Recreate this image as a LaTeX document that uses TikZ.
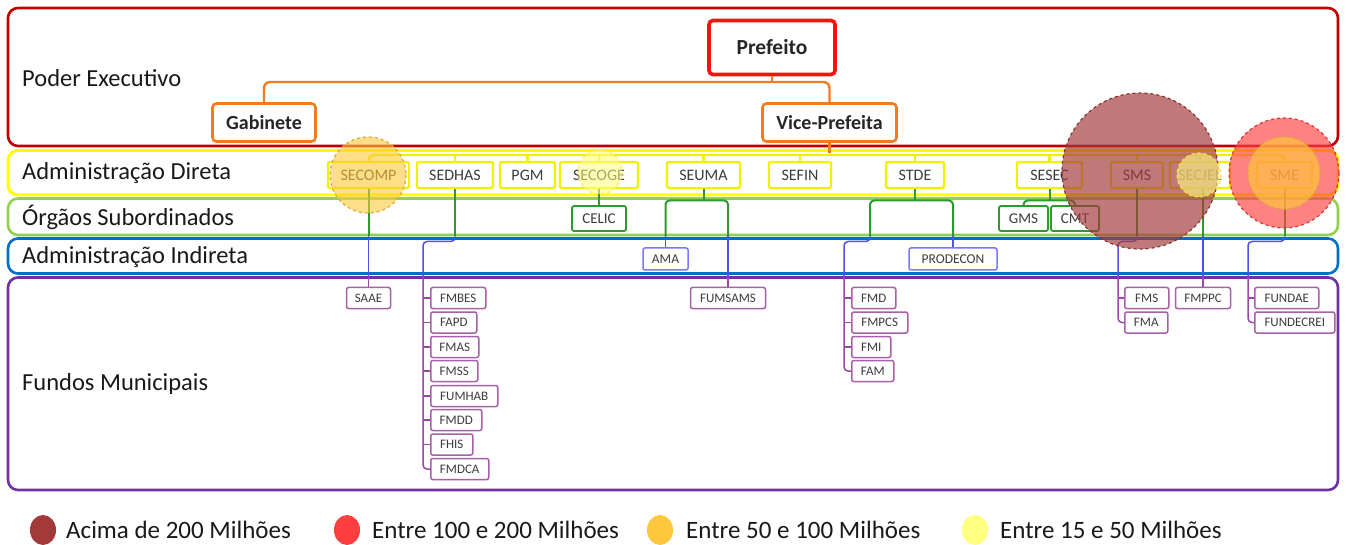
\documentclass[tikz,border=0pt]{standalone}
\usepackage{fontspec}
\setmainfont{Carlito}
\newcommand\fsz[1]{\fontsize{#1}{#1}\selectfont}
\definecolor{bandred}{HTML}{C00000}
\definecolor{bandyel}{HTML}{FFFF00}
\definecolor{bandgrn}{HTML}{92D050}
\definecolor{bandblu}{HTML}{0070C0}
\definecolor{bandpur}{HTML}{7030A0}
\definecolor{orangec}{HTML}{F57A1E}
\definecolor{redc}{HTML}{FF1010}
\definecolor{ylin}{HTML}{F2F200}
\definecolor{glin}{HTML}{2E9A2E}
\definecolor{blin}{HTML}{5050F0}
\definecolor{bbox}{HTML}{7878FF}
\definecolor{plin}{HTML}{9A48A8}
\definecolor{pbox}{HTML}{A860A8}
\definecolor{txt}{HTML}{3C3C3C}
\definecolor{cdark}{HTML}{A33A3A}
\definecolor{cred}{HTML}{FF3F3F}
\definecolor{corange}{HTML}{FFC83C}
\definecolor{cyellow}{HTML}{FFFF80}
\begin{document}
\begin{tikzpicture}[x=1pt,y=-1pt,
  band/.style={line width=2.6, rounded corners=10},
  lab/.style={anchor=west, inner sep=0, font=\fsz{24.5}, text=black!90},
  topbox/.style={draw=orangec, line width=2.6, rounded corners=4, fill=white, font=\bfseries\fsz{20}, text=black!85, inner xsep=2},
  ybox/.style={draw=ylin, line width=2.4, rounded corners=2, fill=white, font=\fsz{16}, text=txt, minimum height=26, inner xsep=2},
  gbox/.style={draw=glin, line width=1.8, rounded corners=2, fill=white, font=\fsz{15}, text=txt, minimum height=25, inner xsep=2},
  bnode/.style={draw=bbox, line width=1.5, rounded corners=2, fill=white, font=\fsz{13.5}, text=txt, minimum height=22, inner xsep=2},
  pnode/.style={draw=pbox, line width=1.5, rounded corners=2, fill=white, font=\fsz{13}, text=txt, minimum height=21, inner xsep=2},
  oline/.style={draw=orangec, line width=2.4},
  yline/.style={draw=ylin, line width=2.4},
  gline/.style={draw=glin, line width=2},
  bline/.style={draw=blin, line width=1.5},
  pline/.style={draw=plin, line width=1.5},
  circ/.style={dashed, line width=1.2},
  legtxt/.style={anchor=west, inner sep=0, font=\fsz{25}, text=black!90}
]
\useasboundingbox (0,0) rectangle (1346,545);
\fill[white] (0,0) rectangle (1346,545);

% bands
\draw[band, draw=bandred] (8,8) rectangle (1338,146);
\draw[band, draw=bandyel, line width=3] (8,150.5) rectangle (1338,195);
\draw[band, draw=bandgrn] (8,198.5) rectangle (1338,235);
\draw[band, draw=bandblu] (8,238.5) rectangle (1338,273.5);
\draw[band, draw=bandpur] (8,277.5) rectangle (1338,490);

\node[lab] (lpe) at (22,78) {Poder Executivo};
\node[lab] (lad) at (22,173) {Administração Direta};
\node[lab] (los) at (22,217) {Órgãos Subordinados};
\node[lab] (lai) at (22,257) {Administração Indireta};
\node[lab] (lfm) at (22,384) {Fundos Municipais};

% helper levels
\coordinate (bus) at (0,155);
\coordinate (k0) at (0,200.5);
\coordinate (g1) at (0,236.5);
\coordinate (k1) at (0,241.5);
\coordinate (g2) at (0,276);
\coordinate (ca) at (423,0);
\coordinate (sl) at (870,0);
\coordinate (cb) at (844,0);
\coordinate (cc) at (1118,0);
\coordinate (cd) at (1248,0);

% top nodes
\node[topbox, draw=redc, line width=3.6, minimum width=126, minimum height=54, font=\bfseries\fsz{21.5}] (pref) at (772,47.5) {Prefeito};
\node[topbox, minimum width=134, minimum height=38] (vice) at (829.5,122.5) {Vice-Prefeita};
\node[topbox, minimum width=103, minimum height=38] (gab) at (264,122.5) {Gabinete};

\draw[oline, rounded corners=6] (gab.north) -- (gab.north |- 0,82) -- (vice.north |- 0,82) -- (vice.north);
\draw[oline] (pref.south) -- (pref.south |- 0,82);
\draw[oline] (vice.south) -- (vice.south |- 0,153);

% administracao direta
\node[ybox, minimum width=81] (secomp) at (368.5,175) {SECOMP};
\node[ybox, minimum width=76] (sedhas) at (455,175) {SEDHAS};
\node[ybox, minimum width=55] (pgm) at (527.5,175) {PGM};
\node[ybox, minimum width=78] (secoge) at (599,175) {SECOGE};
\node[ybox, minimum width=73] (seuma) at (703.5,175) {SEUMA};
\node[ybox, minimum width=62] (sefin) at (800,175) {SEFIN};
\node[ybox, minimum width=58] (stde) at (915,175) {STDE};
\node[ybox, minimum width=65] (sesec) at (1049.5,175) {SESEC};
\node[ybox, minimum width=52] (sms) at (1137,175) {SMS};
\node[ybox, minimum width=60] (secjel) at (1200,175) {SECJEL};
\node[ybox, minimum width=55] (sme) at (1284.5,175) {SME};

\draw[yline, rounded corners=5] (secomp.north) -- (secomp.north |- bus) -- (sme.north |- bus) -- (sme.north);
\foreach \n in {sedhas,pgm,secoge,seuma,sefin,stde,sesec,sms,secjel}
  \draw[yline] (\n.north) -- (\n.north |- bus);

% orgaos subordinados
\node[gbox, minimum width=54] (celic) at (599,218.5) {CELIC};
\node[gbox, minimum width=49] (gms) at (1023.5,218.5) {GMS};
\node[gbox, minimum width=48] (cmt) at (1075,218.5) {CMT};

% administracao indireta
\node[bnode, minimum width=45] (ama) at (665.5,259) {AMA};
\node[bnode, minimum width=88] (prodecon) at (953,259) {PRODECON};

% fundos
\node[pnode, minimum width=44] (saae) at (368.5,298) {SAAE};
\node[pnode, minimum width=75] (fumsams) at (728,298) {FUMSAMS};
\node[pnode, minimum width=55] (fmppc) at (1203,298) {FMPPC};

\node[pnode, anchor=west, minimum width=55] (fmbes) at (430,298) {FMBES};
\node[pnode, anchor=west, minimum width=46] (fapd) at (430,322.5) {FAPD};
\node[pnode, anchor=west, minimum width=48] (fmas) at (430,347) {FMAS};
\node[pnode, anchor=west, minimum width=47] (fmss) at (430,371) {FMSS};
\node[pnode, anchor=west, minimum width=67] (fumhab) at (430,396) {FUMHAB};
\node[pnode, anchor=west, minimum width=51] (fmdd) at (430,420) {FMDD};
\node[pnode, anchor=west, minimum width=42] (fhis) at (430,444.5) {FHIS};
\node[pnode, anchor=west, minimum width=58] (fmdca) at (430,469) {FMDCA};

\node[pnode, anchor=west, minimum width=44] (fmd) at (851,298) {FMD};
\node[pnode, anchor=west, minimum width=56] (fmpcs) at (851,322.5) {FMPCS};
\node[pnode, anchor=west, minimum width=39] (fmi) at (851,347) {FMI};
\node[pnode, anchor=west, minimum width=42] (fam) at (851,371) {FAM};

\node[pnode, anchor=west, minimum width=44] (fms) at (1124,298) {FMS};
\node[pnode, anchor=west, minimum width=43] (fma) at (1124,322.5) {FMA};

\node[pnode, anchor=west, minimum width=64] (fundae) at (1254,298) {FUNDAE};
\node[pnode, anchor=west, minimum width=80] (fundecrei) at (1254,322.5) {FUNDECREI};

% connectors: SECOMP -> SAAE
\draw[gline] (secomp.south) -- (secomp.south |- g1);
\draw[bline] (secomp.south |- g1) -- (secomp.south |- g2);
\draw[pline] (secomp.south |- g2) -- (saae.north);

% SEDHAS -> fundos
\draw[gline] (sedhas.south) -- (sedhas.south |- g1);
\draw[bline, rounded corners=4] (sedhas.south |- g1) -- (sedhas.south |- k1) -- (ca |- k1) -- (ca |- g2);
\draw[pline, rounded corners=4] (ca |- g2) |- (fmdca.west);
\foreach \n in {fmbes,fapd,fmas,fmss,fumhab,fmdd,fhis}
  \draw[pline] (ca |- \n.west) -- (\n.west);

% SECOGE -> CELIC
\draw[gline] (secoge.south) -- (celic.north);

% SEUMA
\draw[gline] (seuma.south) -- (seuma.south |- k0);
\draw[gline, rounded corners=4] (ama.north |- g1) -- (ama.north |- k0) -- (fumsams.north |- k0) -- (fumsams.north |- g1);
\draw[bline] (ama.north |- g1) -- (ama.north);
\draw[bline] (fumsams.north |- g1) -- (fumsams.north |- g2);
\draw[pline] (fumsams.north |- g2) -- (fumsams.north);

% STDE
\draw[gline] (stde.south) -- (stde.south |- k0);
\draw[gline, rounded corners=4] (sl |- g1) -- (sl |- k0) -- (prodecon.north |- k0) -- (prodecon.north |- g1);
\draw[bline] (prodecon.north |- g1) -- (prodecon.north);
\draw[bline, rounded corners=4] (sl |- g1) -- (sl |- k1) -- (cb |- k1) -- (cb |- g2);
\draw[pline, rounded corners=4] (cb |- g2) |- (fam.west);
\foreach \n in {fmd,fmpcs,fmi}
  \draw[pline] (cb |- \n.west) -- (\n.west);

% SESEC
\draw[gline] (sesec.south) -- (sesec.south |- k0);
\draw[gline, rounded corners=4] (gms.north) -- (gms.north |- k0) -- (cmt.north |- k0) -- (cmt.north);

% SMS
\draw[gline] (sms.south) -- (sms.south |- g1);
\draw[bline, rounded corners=4] (sms.south |- g1) -- (sms.south |- k1) -- (cc |- k1) -- (cc |- g2);
\draw[pline, rounded corners=4] (cc |- g2) |- (fma.west);
\draw[pline] (cc |- fms.west) -- (fms.west);

% SECJEL
\draw[gline] (fmppc.north |- secjel.south) -- (fmppc.north |- g1);
\draw[bline] (fmppc.north |- g1) -- (fmppc.north |- g2);
\draw[pline] (fmppc.north |- g2) -- (fmppc.north);

% SME
\draw[gline] (sme.south) -- (sme.south |- g1);
\draw[bline, rounded corners=4] (sme.south |- g1) -- (sme.south |- k1) -- (cd |- k1) -- (cd |- g2);
\draw[pline, rounded corners=4] (cd |- g2) |- (fundecrei.west);
\draw[pline] (cd |- fundae.west) -- (fundae.west);

% overlay circles
\draw[circ, draw=corange!85!black, fill=corange, fill opacity=0.6] (368,175) circle (38);
\draw[circ, draw=cyellow!80!orange, fill=cyellow, fill opacity=0.55] (600,172) circle (22);
\draw[circ, draw=cdark!85!black, fill=cdark, fill opacity=0.68] (1140,171) circle (78);
\draw[circ, draw=cyellow!70!orange, fill=cyellow, fill opacity=0.6] (1199,175) circle (22);
\draw[circ, draw=cred!85!black, fill=cred, fill opacity=0.65] (1284,173) circle (55);
\draw[circ, draw=corange!85!black, fill=corange, fill opacity=0.65] (1284,173) circle (36);

% legend
\fill[cdark] (43,530) ellipse [x radius=13, y radius=15];
\node[legtxt] (l1) at (66,530) {Acima de 200 Milhões};
\fill[cred] (347,530) ellipse [x radius=13, y radius=15];
\node[legtxt] (l2) at (372,530) {Entre 100 e 200 Milhões};
\fill[corange] (660,530) ellipse [x radius=13, y radius=15];
\node[legtxt] (l3) at (686,530) {Entre 50 e 100 Milhões};
\fill[cyellow] (975,530) ellipse [x radius=13, y radius=15];
\node[legtxt] (l4) at (1000,530) {Entre 15 e 50 Milhões};
\end{tikzpicture}
\end{document}
